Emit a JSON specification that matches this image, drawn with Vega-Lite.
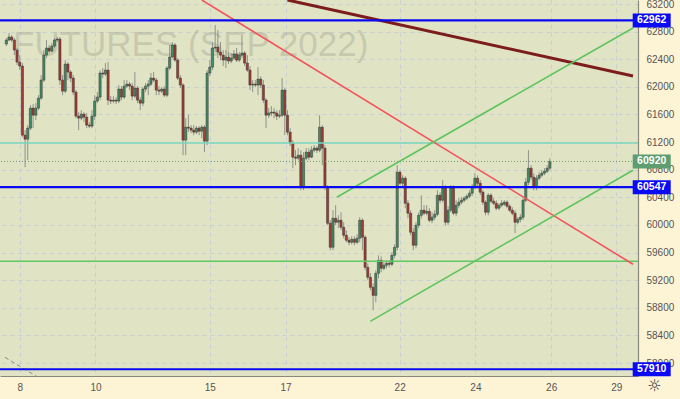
{
"$schema": "https://vega.github.io/schema/vega-lite/v6.json",
"width": 638, "height": 376,
"autosize": {"type": "none"},
"padding": {"left": 0, "top": 0, "right": 42, "bottom": 23},
"background": "#fdf3d5",
"view": {"fill": "#e1e4c4", "stroke": null},
"resolve": {"axis": {"x": "independent", "y": "independent"}},
"config": {
  "font": "Liberation Sans",
  "axis": {"labelFont": "Liberation Sans", "labelFontSize": 10, "labelColor": "#555555", "gridColor": "#c6cfd3", "gridDash": [4, 4], "gridWidth": 1, "domainColor": "#8a887c", "domainWidth": 1.2, "ticks": false}
},
"datasets": {
  "candles": [
{"x":0,"o":62620,"c":62678,"h":62707,"l":62591},
{"x":1,"o":62678,"c":62722,"h":62780,"l":62664},
{"x":2,"o":62722,"c":62678,"h":62750,"l":62649},
{"x":3,"o":62678,"c":62533,"h":62707,"l":62460},
{"x":4,"o":62533,"c":62359,"h":62562,"l":62316},
{"x":5,"o":62359,"c":62301,"h":62460,"l":62243},
{"x":6,"o":62301,"c":61300,"h":62344,"l":61272},
{"x":7,"o":61300,"c":61242,"h":61373,"l":60836},
{"x":8,"o":61242,"c":61402,"h":61446,"l":60938},
{"x":9,"o":61402,"c":61692,"h":61736,"l":61373},
{"x":10,"o":61692,"c":61590,"h":61750,"l":61402},
{"x":11,"o":61590,"c":61692,"h":61764,"l":61518},
{"x":12,"o":61692,"c":61837,"h":61880,"l":61663},
{"x":13,"o":61837,"c":62098,"h":62170,"l":61808},
{"x":14,"o":62098,"c":62460,"h":62533,"l":62069},
{"x":15,"o":62460,"c":62562,"h":62678,"l":62417},
{"x":16,"o":62562,"c":62518,"h":62606,"l":62490},
{"x":17,"o":62518,"c":62591,"h":62634,"l":62504},
{"x":18,"o":62591,"c":62678,"h":62707,"l":62562},
{"x":19,"o":62678,"c":62692,"h":62722,"l":62649},
{"x":20,"o":62692,"c":62098,"h":62722,"l":62026},
{"x":21,"o":62098,"c":61938,"h":62170,"l":61880},
{"x":22,"o":61938,"c":62330,"h":62388,"l":61910},
{"x":23,"o":62330,"c":62214,"h":62359,"l":62098},
{"x":24,"o":62214,"c":62127,"h":62243,"l":62069},
{"x":25,"o":62127,"c":61924,"h":62170,"l":61880},
{"x":26,"o":61924,"c":61576,"h":61953,"l":61547},
{"x":27,"o":61576,"c":61547,"h":61634,"l":61373},
{"x":28,"o":61547,"c":61605,"h":61663,"l":61518},
{"x":29,"o":61605,"c":61562,"h":61634,"l":61489},
{"x":30,"o":61562,"c":61446,"h":61620,"l":61402},
{"x":31,"o":61446,"c":61431,"h":61489,"l":61402},
{"x":32,"o":61431,"c":61576,"h":61663,"l":61402},
{"x":33,"o":61576,"c":61794,"h":61880,"l":61518},
{"x":34,"o":61794,"c":61852,"h":61924,"l":61764},
{"x":35,"o":61852,"c":62200,"h":62243,"l":61808},
{"x":36,"o":62200,"c":62185,"h":62272,"l":62127},
{"x":37,"o":62185,"c":62243,"h":62344,"l":62156},
{"x":38,"o":62243,"c":61808,"h":62359,"l":61736},
{"x":39,"o":61808,"c":61794,"h":61866,"l":61750},
{"x":40,"o":61794,"c":61808,"h":61866,"l":61764},
{"x":41,"o":61808,"c":61794,"h":61852,"l":61750},
{"x":42,"o":61794,"c":61968,"h":62026,"l":61764},
{"x":43,"o":61968,"c":61852,"h":62011,"l":61808},
{"x":44,"o":61852,"c":62011,"h":62098,"l":61822},
{"x":45,"o":62011,"c":62040,"h":62098,"l":61982},
{"x":46,"o":62040,"c":62011,"h":62069,"l":61953},
{"x":47,"o":62011,"c":61866,"h":62054,"l":61808},
{"x":48,"o":61866,"c":61982,"h":62214,"l":61837},
{"x":49,"o":61982,"c":61808,"h":62011,"l":61764},
{"x":50,"o":61808,"c":61764,"h":61852,"l":61663},
{"x":51,"o":61764,"c":61968,"h":61996,"l":61721},
{"x":52,"o":61968,"c":62011,"h":62054,"l":61924},
{"x":53,"o":62011,"c":62040,"h":62098,"l":61880},
{"x":54,"o":62040,"c":62127,"h":62200,"l":62011},
{"x":55,"o":62127,"c":62098,"h":62214,"l":62069},
{"x":56,"o":62098,"c":61953,"h":62127,"l":61880},
{"x":57,"o":61953,"c":61938,"h":62011,"l":61880},
{"x":58,"o":61938,"c":61968,"h":61996,"l":61910},
{"x":59,"o":61968,"c":61880,"h":62011,"l":61852},
{"x":60,"o":61880,"c":62272,"h":62301,"l":61852},
{"x":61,"o":62272,"c":62432,"h":62606,"l":62243},
{"x":62,"o":62432,"c":62606,"h":62649,"l":62417},
{"x":63,"o":62606,"c":62388,"h":62634,"l":62359},
{"x":64,"o":62388,"c":62127,"h":62417,"l":62098},
{"x":65,"o":62127,"c":62026,"h":62170,"l":61982},
{"x":66,"o":62026,"c":61228,"h":62054,"l":61010},
{"x":67,"o":61228,"c":61416,"h":61547,"l":61010},
{"x":68,"o":61416,"c":61402,"h":61590,"l":61344},
{"x":69,"o":61402,"c":61373,"h":61446,"l":61330},
{"x":70,"o":61373,"c":61344,"h":61446,"l":61300},
{"x":71,"o":61344,"c":61402,"h":61431,"l":61315},
{"x":72,"o":61402,"c":61358,"h":61431,"l":61300},
{"x":73,"o":61358,"c":61416,"h":61446,"l":61257},
{"x":74,"o":61416,"c":61214,"h":61446,"l":61054},
{"x":75,"o":61214,"c":62200,"h":62243,"l":61156},
{"x":76,"o":62200,"c":62286,"h":62388,"l":62156},
{"x":77,"o":62286,"c":62562,"h":62649,"l":62243},
{"x":78,"o":62562,"c":62576,"h":62896,"l":62504},
{"x":79,"o":62576,"c":62504,"h":62823,"l":62417},
{"x":80,"o":62504,"c":62460,"h":62649,"l":62388},
{"x":81,"o":62460,"c":62388,"h":62533,"l":62301},
{"x":82,"o":62388,"c":62432,"h":62533,"l":62272},
{"x":83,"o":62432,"c":62374,"h":62504,"l":62330},
{"x":84,"o":62374,"c":62417,"h":62490,"l":62344},
{"x":85,"o":62417,"c":62475,"h":62533,"l":62388},
{"x":86,"o":62475,"c":62388,"h":62562,"l":62359},
{"x":87,"o":62388,"c":62460,"h":62504,"l":62359},
{"x":88,"o":62460,"c":62490,"h":62750,"l":62417},
{"x":89,"o":62490,"c":62344,"h":62518,"l":62301},
{"x":90,"o":62344,"c":62243,"h":62460,"l":62214},
{"x":91,"o":62243,"c":62026,"h":62301,"l":61953},
{"x":92,"o":62026,"c":62040,"h":62098,"l":61924},
{"x":93,"o":62040,"c":62026,"h":62098,"l":61996},
{"x":94,"o":62026,"c":62112,"h":62286,"l":61880},
{"x":95,"o":62112,"c":62026,"h":62156,"l":61982},
{"x":96,"o":62026,"c":61808,"h":62098,"l":61764},
{"x":97,"o":61808,"c":61590,"h":61837,"l":61402},
{"x":98,"o":61590,"c":61620,"h":61692,"l":61547},
{"x":99,"o":61620,"c":61634,"h":61721,"l":61576},
{"x":100,"o":61634,"c":61620,"h":61692,"l":61547},
{"x":101,"o":61620,"c":61576,"h":61663,"l":61518},
{"x":102,"o":61576,"c":61590,"h":61663,"l":61547},
{"x":103,"o":61590,"c":61953,"h":62127,"l":61562},
{"x":104,"o":61953,"c":61590,"h":61982,"l":61300},
{"x":105,"o":61590,"c":61344,"h":61663,"l":61300},
{"x":106,"o":61344,"c":61184,"h":61402,"l":61141},
{"x":107,"o":61184,"c":60982,"h":61228,"l":60822},
{"x":108,"o":60982,"c":60967,"h":61083,"l":60866},
{"x":109,"o":60967,"c":61010,"h":61112,"l":60938},
{"x":110,"o":61010,"c":60546,"h":61083,"l":60503},
{"x":111,"o":60546,"c":60967,"h":61054,"l":60503},
{"x":112,"o":60967,"c":61054,"h":61112,"l":60938},
{"x":113,"o":61054,"c":60982,"h":61112,"l":60938},
{"x":114,"o":60982,"c":61083,"h":61141,"l":60967},
{"x":115,"o":61083,"c":61112,"h":61156,"l":61054},
{"x":116,"o":61112,"c":61083,"h":61141,"l":61040},
{"x":117,"o":61083,"c":61416,"h":61590,"l":61054},
{"x":118,"o":61416,"c":61112,"h":61446,"l":60866},
{"x":119,"o":61112,"c":60546,"h":61156,"l":60503},
{"x":120,"o":60546,"c":60024,"h":60576,"l":59996},
{"x":121,"o":60024,"c":59676,"h":60068,"l":59633},
{"x":122,"o":59676,"c":60097,"h":60213,"l":59633},
{"x":123,"o":60097,"c":60039,"h":60286,"l":59996},
{"x":124,"o":60039,"c":60068,"h":60140,"l":59952},
{"x":125,"o":60068,"c":59966,"h":60184,"l":59923},
{"x":126,"o":59966,"c":59850,"h":60039,"l":59807},
{"x":127,"o":59850,"c":59778,"h":59923,"l":59749},
{"x":128,"o":59778,"c":59749,"h":59822,"l":59706},
{"x":129,"o":59749,"c":59792,"h":59836,"l":59720},
{"x":130,"o":59792,"c":59749,"h":59836,"l":59706},
{"x":131,"o":59749,"c":59807,"h":59865,"l":59720},
{"x":132,"o":59807,"c":60068,"h":60112,"l":59749},
{"x":133,"o":60068,"c":59822,"h":60097,"l":59633},
{"x":134,"o":59822,"c":59386,"h":59850,"l":59343},
{"x":135,"o":59386,"c":59242,"h":59444,"l":59198},
{"x":136,"o":59242,"c":59096,"h":59300,"l":59053},
{"x":137,"o":59096,"c":58980,"h":59154,"l":58763},
{"x":138,"o":58980,"c":59300,"h":59343,"l":58879},
{"x":139,"o":59300,"c":59488,"h":59560,"l":59227},
{"x":140,"o":59488,"c":59372,"h":59546,"l":59314},
{"x":141,"o":59372,"c":59416,"h":59459,"l":59343},
{"x":142,"o":59416,"c":59444,"h":59488,"l":59372},
{"x":143,"o":59444,"c":59430,"h":59488,"l":59386},
{"x":144,"o":59430,"c":59560,"h":59604,"l":59401},
{"x":145,"o":59560,"c":59676,"h":59720,"l":59517},
{"x":146,"o":59676,"c":60764,"h":60866,"l":59633},
{"x":147,"o":60764,"c":60604,"h":60793,"l":60576},
{"x":148,"o":60604,"c":60677,"h":60720,"l":60561},
{"x":149,"o":60677,"c":60314,"h":60706,"l":60242},
{"x":150,"o":60314,"c":60170,"h":60358,"l":60097},
{"x":151,"o":60170,"c":59894,"h":60213,"l":59850},
{"x":152,"o":59894,"c":59706,"h":59952,"l":59633},
{"x":153,"o":59706,"c":59996,"h":60039,"l":59662},
{"x":154,"o":59996,"c":60140,"h":60184,"l":59952},
{"x":155,"o":60140,"c":60213,"h":60430,"l":60097},
{"x":156,"o":60213,"c":60170,"h":60286,"l":60140},
{"x":157,"o":60170,"c":60198,"h":60286,"l":60140},
{"x":158,"o":60198,"c":60068,"h":60242,"l":60039},
{"x":159,"o":60068,"c":60112,"h":60184,"l":60024},
{"x":160,"o":60112,"c":60155,"h":60213,"l":60068},
{"x":161,"o":60155,"c":60430,"h":60503,"l":60126},
{"x":162,"o":60430,"c":60358,"h":60474,"l":60314},
{"x":163,"o":60358,"c":60532,"h":60648,"l":60329},
{"x":164,"o":60532,"c":60039,"h":60576,"l":59996},
{"x":165,"o":60039,"c":60213,"h":60271,"l":59996},
{"x":166,"o":60213,"c":60546,"h":60576,"l":60184},
{"x":167,"o":60546,"c":60170,"h":60576,"l":60140},
{"x":168,"o":60170,"c":60286,"h":60358,"l":60126},
{"x":169,"o":60286,"c":60329,"h":60387,"l":60242},
{"x":170,"o":60329,"c":60358,"h":60402,"l":60300},
{"x":171,"o":60358,"c":60387,"h":60416,"l":60329},
{"x":172,"o":60387,"c":60416,"h":60445,"l":60358},
{"x":173,"o":60416,"c":60460,"h":60503,"l":60387},
{"x":174,"o":60460,"c":60546,"h":60590,"l":60416},
{"x":175,"o":60546,"c":60677,"h":60750,"l":60518},
{"x":176,"o":60677,"c":60604,"h":60720,"l":60561},
{"x":177,"o":60604,"c":60474,"h":60648,"l":60430},
{"x":178,"o":60474,"c":60329,"h":60503,"l":60286},
{"x":179,"o":60329,"c":60184,"h":60358,"l":60140},
{"x":180,"o":60184,"c":60430,"h":60460,"l":60140},
{"x":181,"o":60430,"c":60344,"h":60460,"l":60314},
{"x":182,"o":60344,"c":60314,"h":60387,"l":60286},
{"x":183,"o":60314,"c":60242,"h":60358,"l":60213},
{"x":184,"o":60242,"c":60286,"h":60314,"l":60213},
{"x":185,"o":60286,"c":60314,"h":60358,"l":60256},
{"x":186,"o":60300,"c":60329,"h":60358,"l":60271},
{"x":187,"o":60329,"c":60271,"h":60358,"l":60242},
{"x":188,"o":60271,"c":60213,"h":60300,"l":60184},
{"x":189,"o":60213,"c":60170,"h":60256,"l":60140},
{"x":190,"o":60170,"c":60039,"h":60213,"l":59880},
{"x":191,"o":60039,"c":60082,"h":60112,"l":60010},
{"x":192,"o":60082,"c":60112,"h":60155,"l":60039},
{"x":193,"o":60112,"c":60358,"h":60387,"l":60068},
{"x":194,"o":60358,"c":60619,"h":60677,"l":60329},
{"x":195,"o":60619,"c":60822,"h":61083,"l":60576},
{"x":196,"o":60822,"c":60692,"h":60866,"l":60648},
{"x":197,"o":60692,"c":60546,"h":60750,"l":60503},
{"x":198,"o":60546,"c":60677,"h":60720,"l":60503},
{"x":199,"o":60677,"c":60720,"h":60764,"l":60648},
{"x":200,"o":60720,"c":60750,"h":60793,"l":60692},
{"x":201,"o":60750,"c":60778,"h":60822,"l":60720},
{"x":202,"o":60778,"c":60822,"h":60866,"l":60750},
{"x":203,"o":60822,"c":60920,"h":60967,"l":60793}
  ],
  "levels": [
    {"kind": "blue", "p": 62962},
    {"kind": "blue", "p": 60547},
    {"kind": "blue", "p": 57910},
    {"kind": "teal", "p": 61185},
    {"kind": "green", "p": 59475},
    {"kind": "last", "p": 60920}
  ],
  "trends": [
    {"kind": "maroon", "x": 105, "p": 63258, "x2": 234.06, "p2": 62156},
    {"kind": "red", "x": 73, "p": 63258, "x2": 234.06, "p2": 59430},
    {"kind": "channel", "x": 123.4, "p": 60402, "x2": 234.06, "p2": 62852},
    {"kind": "channel", "x": 135.9, "p": 58604, "x2": 234.06, "p2": 60793},
    {"kind": "grey", "x": -0.5, "p": 58082, "x2": 12, "p2": 57790}
  ],
  "tags": [
    {"kind": "blue", "p": 62962, "t": "62962"},
    {"kind": "blue", "p": 60547, "t": "60547"},
    {"kind": "blue", "p": 57910, "t": "57910"},
    {"kind": "last", "p": 60920, "t": "60920"}
  ]
},
"layer": [
  {
    "data": {"values": [{"x": 2.5, "p": 62446, "t": "FUTURES (SEP 2022)"}]},
    "mark": {"type": "text", "align": "left", "baseline": "alphabetic", "fontSize": 35, "font": "Liberation Sans", "fill": "#9ea08c", "opacity": 0.38},
    "encoding": {
      "x": {"field": "x", "type": "quantitative", "scale": {"domain": [-0.5, 234.06], "nice": false, "zero": false},
        "axis": {"title": null, "orient": "bottom", "values": [5, 33.3, 76, 104.3, 146.9, 175.2, 203.5, 227.8], "grid": true, "labelPadding": 6,
          "labelExpr": "datum.value < 10 ? '8' : datum.value < 50 ? '10' : datum.value < 90 ? '15' : datum.value < 120 ? '17' : datum.value < 160 ? '22' : datum.value < 190 ? '24' : datum.value < 215 ? '26' : '29'"}},
      "y": {"field": "p", "type": "quantitative", "scale": {"domain": [57812, 63258], "nice": false, "zero": false},
        "axis": {"title": null, "orient": "right", "values": [58000, 58400, 58800, 59200, 59600, 60000, 60400, 60800, 61200, 61600, 62000, 62400, 62800, 63200], "format": "d", "grid": true, "labelPadding": 8, "labelBaseline": "middle"}},
      "text": {"field": "t"}
    }
  },
  {
    "data": {"name": "candles"},
    "mark": {"type": "rule", "color": "#8e928a", "strokeWidth": 1},
    "encoding": {
      "x": {"field": "x", "type": "quantitative", "axis": null},
      "y": {"field": "l", "type": "quantitative", "axis": null},
      "y2": {"field": "h"}
    }
  },
  {
    "data": {"name": "candles"},
    "mark": {"type": "bar", "width": 2.2, "stroke": "#3a3330", "strokeWidth": 0.5},
    "encoding": {
      "x": {"field": "x", "type": "quantitative", "axis": null},
      "y": {"field": "o", "type": "quantitative", "axis": null},
      "y2": {"field": "c"},
      "fill": {"condition": {"test": "datum.c >= datum.o", "value": "#3e8d66"}, "value": "#a03b33"}
    }
  },
  {
    "data": {"name": "levels"},
    "transform": [{"filter": "datum.kind == 'teal'"}],
    "mark": {"type": "rule", "color": "#78d6bf", "strokeWidth": 1.5},
    "encoding": {"y": {"field": "p", "type": "quantitative", "axis": null}}
  },
  {
    "data": {"name": "levels"},
    "transform": [{"filter": "datum.kind == 'green'"}],
    "mark": {"type": "rule", "color": "#62c865", "strokeWidth": 1.5},
    "encoding": {"y": {"field": "p", "type": "quantitative", "axis": null}}
  },
  {
    "data": {"name": "levels"},
    "transform": [{"filter": "datum.kind == 'last'"}],
    "mark": {"type": "rule", "color": "#6c9a6c", "strokeWidth": 1, "strokeDash": [1, 2]},
    "encoding": {"y": {"field": "p", "type": "quantitative", "axis": null}}
  },
  {
    "data": {"name": "trends"},
    "transform": [{"filter": "datum.kind == 'maroon'"}],
    "mark": {"type": "rule", "color": "#7c1c1c", "strokeWidth": 3, "clip": true},
    "encoding": {
      "x": {"field": "x", "type": "quantitative", "axis": null}, "x2": {"field": "x2"},
      "y": {"field": "p", "type": "quantitative", "axis": null}, "y2": {"field": "p2"}
    }
  },
  {
    "data": {"name": "trends"},
    "transform": [{"filter": "datum.kind == 'red'"}],
    "mark": {"type": "rule", "color": "#f2545c", "strokeWidth": 1.6, "clip": true},
    "encoding": {
      "x": {"field": "x", "type": "quantitative", "axis": null}, "x2": {"field": "x2"},
      "y": {"field": "p", "type": "quantitative", "axis": null}, "y2": {"field": "p2"}
    }
  },
  {
    "data": {"name": "trends"},
    "transform": [{"filter": "datum.kind == 'channel'"}],
    "mark": {"type": "rule", "color": "#5ec45e", "strokeWidth": 1.6, "clip": true},
    "encoding": {
      "x": {"field": "x", "type": "quantitative", "axis": null}, "x2": {"field": "x2"},
      "y": {"field": "p", "type": "quantitative", "axis": null}, "y2": {"field": "p2"}
    }
  },
  {
    "data": {"name": "trends"},
    "transform": [{"filter": "datum.kind == 'grey'"}],
    "mark": {"type": "rule", "color": "#8a8a86", "strokeWidth": 1, "strokeDash": [4, 3], "clip": true},
    "encoding": {
      "x": {"field": "x", "type": "quantitative", "axis": null}, "x2": {"field": "x2"},
      "y": {"field": "p", "type": "quantitative", "axis": null}, "y2": {"field": "p2"}
    }
  },
  {
    "data": {"name": "levels"},
    "transform": [{"filter": "datum.kind == 'blue'"}],
    "mark": {"type": "rule", "color": "#0a0af0", "strokeWidth": 2.2},
    "encoding": {"y": {"field": "p", "type": "quantitative", "axis": null}}
  },
  {
    "data": {"name": "tags"},
    "mark": {"type": "tick", "orient": "horizontal", "size": 38, "thickness": 14, "opacity": 1},
    "encoding": {
      "x": {"datum": 241.05, "type": "quantitative", "axis": null},
      "y": {"field": "p", "type": "quantitative", "axis": null},
      "color": {"field": "kind", "type": "nominal", "scale": {"domain": ["blue", "last"], "range": ["#0a0af5", "#5e9d70"]}, "legend": null}
    }
  },
  {
    "data": {"name": "tags"},
    "mark": {"type": "text", "align": "center", "baseline": "middle", "fontSize": 10.5, "fontWeight": "bold", "font": "Liberation Sans", "fill": "#ffffff"},
    "encoding": {
      "x": {"datum": 241.05, "type": "quantitative", "axis": null},
      "y": {"field": "p", "type": "quantitative", "axis": null},
      "text": {"field": "t"}
    }
  },
  {
    "data": {"values": [{"x": 242.1, "p": 57661, "t": "☼"}]},
    "mark": {"type": "text", "align": "center", "baseline": "middle", "fontSize": 16, "font": "DejaVu Sans", "fill": "#333333"},
    "encoding": {
      "x": {"field": "x", "type": "quantitative", "axis": null},
      "y": {"field": "p", "type": "quantitative", "axis": null},
      "text": {"field": "t"}
    }
  }
]
}
